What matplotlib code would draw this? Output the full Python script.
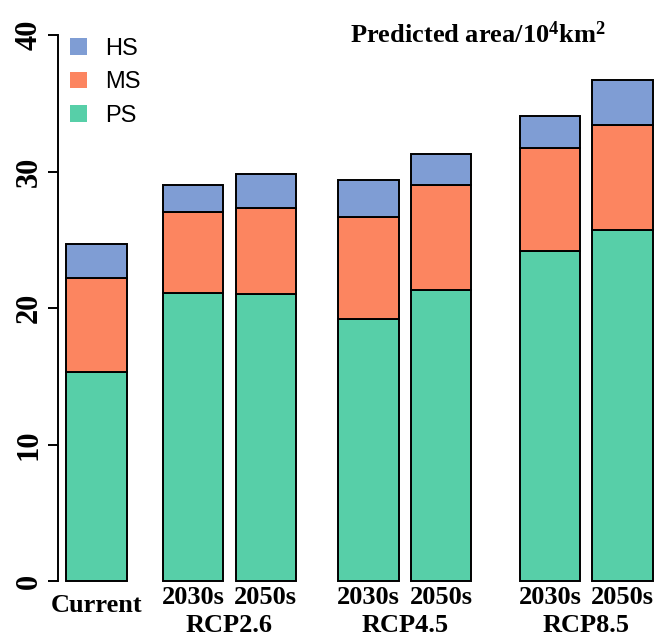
import matplotlib
matplotlib.use("Agg")
import matplotlib.pyplot as plt
from matplotlib.patches import Patch
import numpy as np

plt.rcParams['mathtext.fontset'] = 'custom'
plt.rcParams['mathtext.rm'] = 'Liberation Serif:bold'
plt.rcParams['mathtext.it'] = 'Liberation Serif:bold'
plt.rcParams['mathtext.bf'] = 'Liberation Serif:bold'

# Data
categories = ["Current", "2030s", "2050s", "2030s", "2050s", "2030s", "2050s"]
scenarios = ["RCP2.6", "RCP4.5", "RCP8.5"]
ps = [15.3, 21.1, 21.0, 19.2, 21.3, 24.2, 25.7]
ms = [6.9, 5.9, 6.3, 7.5, 7.7, 7.5, 7.7]
hs = [2.5, 2.0, 2.5, 2.7, 2.3, 2.4, 3.3]
series_names = ["HS", "MS", "PS"]

colors = {"PS": "#57cfa8", "MS": "#fc8560", "HS": "#7f9dd4"}

# layout: R-style spacing before each bar (in bar widths)
space = [0, 0.6, 0.2, 0.7, 0.2, 0.8, 0.2]
x = np.cumsum(np.array(space) + 1.0) - 1.0

W, H = 659, 637
fig = plt.figure(figsize=(W / 100, H / 100), dpi=100)
ax = fig.add_axes([58 / W, (H - 581) / H, (W - 58) / W, (581 - 35) / H])

ps_a = np.array(ps); ms_a = np.array(ms); hs_a = np.array(hs)
kw = dict(width=1.0, edgecolor="black", linewidth=1.4, clip_on=False)
ax.bar(x, ps_a, color=colors["PS"], **kw)
ax.bar(x, ms_a, bottom=ps_a, color=colors["MS"], **kw)
ax.bar(x, hs_a, bottom=ps_a + ms_a, color=colors["HS"], **kw)

ax.set_xlim(-0.636, 9.3)
ax.set_ylim(0, 40)
for s in ["top", "right", "bottom"]:
    ax.spines[s].set_visible(False)
ax.spines["left"].set_linewidth(1.4)
ax.set_xticks([])
ax.set_yticks([0, 10, 20, 30, 40])
ax.tick_params(axis="y", length=7.2, width=1.4, pad=3)
for lab in ax.get_yticklabels():
    lab.set_rotation(90)
    lab.set_fontfamily("Liberation Serif")
    lab.set_fontweight("bold")
    lab.set_fontsize(22)
    lab.set_va("center")

tfont = dict(fontfamily="Liberation Serif", fontweight="bold", fontsize=19)
# x labels
ax.annotate(categories[0], xy=(x[0], 0), xycoords=("data", "axes fraction"),
            xytext=(0, -24), textcoords="offset pixels", ha="center", va="center", **tfont)
for i in range(1, len(categories)):
    ax.annotate(categories[i], xy=(x[i], 0), xycoords=("data", "axes fraction"),
                xytext=(0, -17), textcoords="offset pixels", ha="center", va="center", **tfont)
for k, sc in enumerate(scenarios):
    cx = (x[1 + 2 * k] + x[2 + 2 * k]) / 2
    ax.annotate(sc, xy=(cx, 0), xycoords=("data", "axes fraction"),
                xytext=(0, -44), textcoords="offset pixels", ha="center", va="center", **tfont)

# title
fig.text(478 / W, 1 - 43 / H, r"Predicted area/10$^{4}$km$^{2}$", ha="center", va="baseline",
         fontfamily="Liberation Serif", fontweight="bold", fontsize=19)

# legend
handles = [Patch(facecolor=colors[n], edgecolor="none", label=n) for n in series_names]
fig.legend(handles=handles, loc="upper left", bbox_to_anchor=(70 / W, 1 - 38 / H),
           frameon=False, prop={"family": "Liberation Sans", "size": 17},
           handlelength=0.7, handleheight=0.72, handletextpad=0.8, labelspacing=0.48,
           borderpad=0, borderaxespad=0)

fig.savefig("out.png", dpi=100)
